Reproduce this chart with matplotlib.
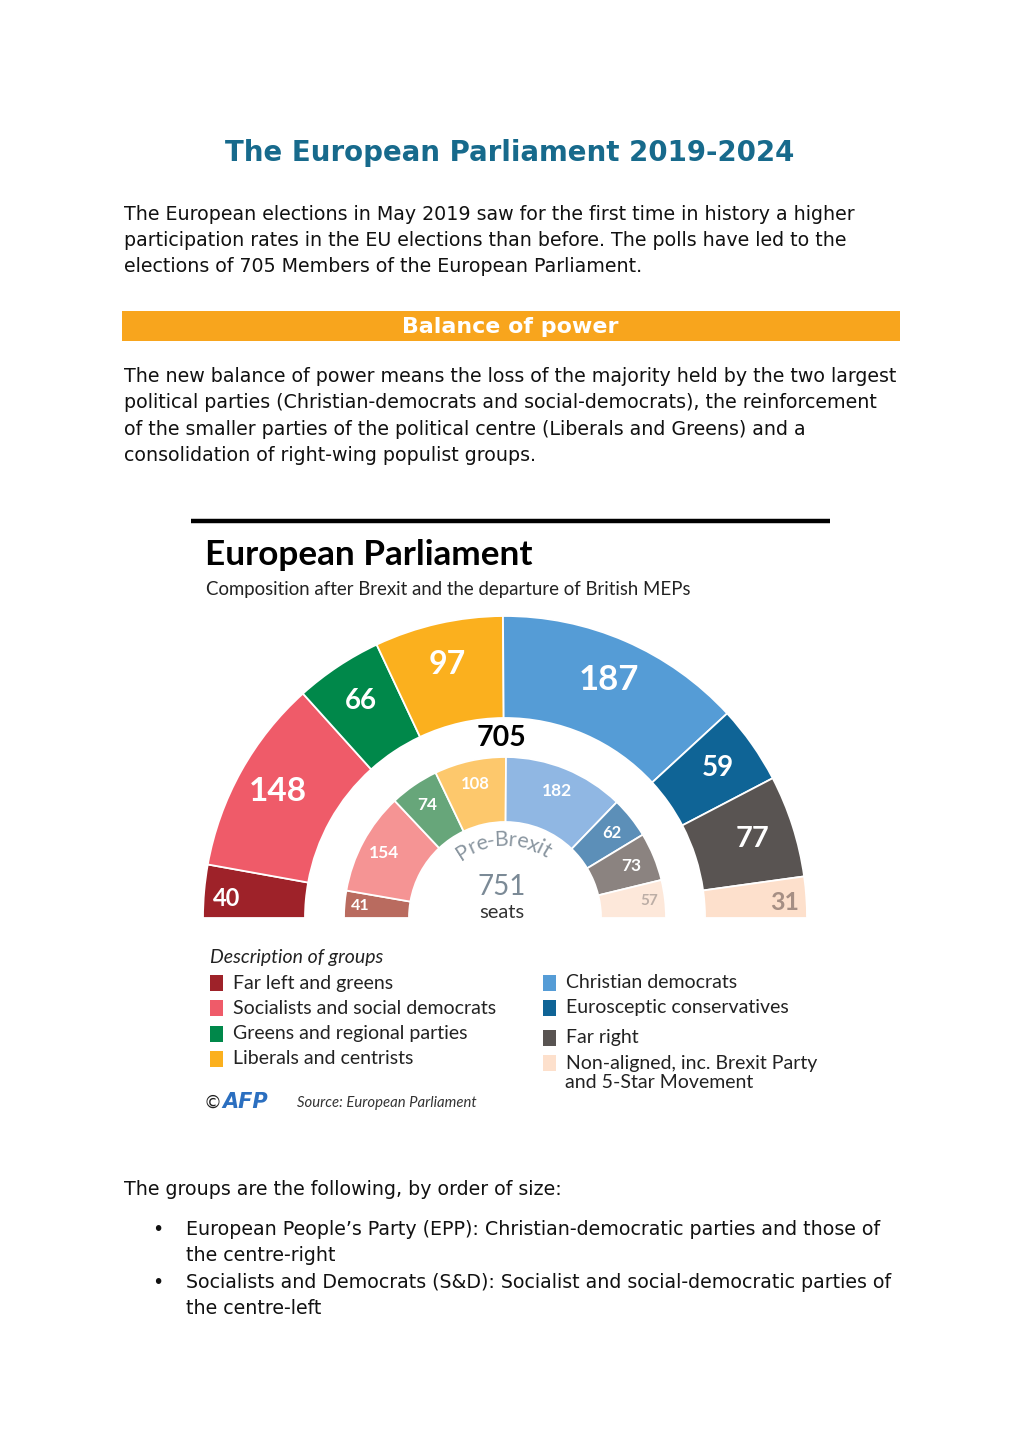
"""European Parliament 2019-2024 page: text blocks plus the AFP hemicycle chart."""
import numpy as np
import matplotlib
matplotlib.use("Agg")
import matplotlib.pyplot as plt
from matplotlib.patches import Wedge, Rectangle
from matplotlib.font_manager import FontProperties
from matplotlib.textpath import TextToPath

# ---- data -----------------------------------------------------------------
groups = [
    "Far left and greens", "Socialists and social democrats",
    "Greens and regional parties", "Liberals and centrists",
    "Christian democrats", "Eurosceptic conservatives", "Far right",
    "Non-aligned, inc. Brexit Party\nand 5-Star Movement",
]
seats_now = [40, 148, 66, 97, 187, 59, 77, 31]        # after Brexit, 705
seats_pre = [41, 154, 74, 108, 182, 62, 73, 57]       # pre-Brexit, 751

outer_colors = ["#9e2229", "#ef5b69", "#00884a", "#fbb01e",
                "#559cd6", "#0f6496", "#595452", "#fde0cc"]
inner_colors = ["#b96b5f", "#f59494", "#67a67a", "#fdc86c",
                "#90b7e3", "#5c8fb8", "#8b8380", "#fde8da"]

# label styling (size in pt, colour)
outer_sizes = [17, 24, 20, 23, 25, 20, 21, 18]
inner_sizes = [11.5, 12.5, 12.5, 12, 12.5, 12, 12.5, 11]
outer_txt = ["white"] * 7 + ["#a68f84"]
inner_txt = ["white"] * 7 + ["#bcaea6"]

W, H = 1020, 1442
BODY = "DejaVu Sans"
CHART = "Lato"
FS = 13.7


def Y(y):
    """image row -> axes y."""
    return H - y


fig = plt.figure(figsize=(W / 100, H / 100), dpi=100)
ax = fig.add_axes([0, 0, 1, 1])
ax.set_xlim(0, W)
ax.set_ylim(0, H)
ax.axis("off")

# ---- document text ----------------------------------------------------------
ax.text(510, Y(153), "The European Parliament 2019-2024", ha="center", va="center",
        fontsize=19.9, fontweight="bold", color="#176a8c", family=BODY)

para1 = ["The European elections in May 2019 saw for the first time in history a higher",
         "participation rates in the EU elections than before. The polls have led to the",
         "elections of 705 Members of the European Parliament."]
for i, line in enumerate(para1):
    ax.text(124, Y(214.5 + 26 * i), line, ha="left", va="center", fontsize=FS,
            family=BODY, color="#111111")

ax.add_patch(Rectangle((122, Y(341)), 778, 30, color="#f8a51d", lw=0))
ax.text(510, Y(327), "Balance of power", ha="center", va="center", fontsize=15.9,
        fontweight="bold", color="white", family=BODY)

para2 = ["The new balance of power means the loss of the majority held by the two largest",
         "political parties (Christian-democrats and social-democrats), the reinforcement",
         "of the smaller parties of the political centre (Liberals and Greens) and a",
         "consolidation of right-wing populist groups."]
for i, line in enumerate(para2):
    ax.text(124, Y(376.5 + 26.3 * i), line, ha="left", va="center", fontsize=FS,
            family=BODY, color="#111111")

# ---- chart header -----------------------------------------------------------
ax.plot([191, 830], [Y(521), Y(521)], color="black", lw=3.2, solid_capstyle="butt")
ax.text(205, Y(555), "European Parliament", ha="left", va="center", fontsize=25.3,
        fontweight="bold", color="black", family=CHART)
ax.text(206, Y(589), "Composition after Brexit and the departure of British MEPs",
        ha="left", va="center", fontsize=13.45, color="#222222", family=CHART)

# ---- hemicycle --------------------------------------------------------------
cx, cy = 505, Y(918)
rings = [
    # seats, colours, r_in, r_out, label radius, end-label (radius frac, angle frac), sizes, text colours
    (seats_now, outer_colors, 200, 302, 260, (0.78, 0.40), outer_sizes, outer_txt),
    (seats_pre, inner_colors, 96, 161, 137, (0.76, 0.5), inner_sizes, inner_txt),
]
for seats, colors, r_in, r_out, r_lab, (ef, af), sizes, tcols in rings:
    total = sum(seats)
    bounds = 180 - 180 * np.concatenate([[0], np.cumsum(seats)]) / total
    for k, v in enumerate(seats):
        t1, t2 = bounds[k + 1], bounds[k]
        ax.add_patch(Wedge((cx, cy), r_out, t1, t2, width=r_out - r_in,
                           facecolor=colors[k], edgecolor="white", lw=1.3))
        mid = np.deg2rad((t1 + t2) / 2)
        rr = r_lab
        # the flat end segments carry their label near the base line
        if k == 0:
            mid, rr = np.deg2rad(t2 - af * (t2 - t1)), r_in + ef * (r_out - r_in)
        elif k == len(seats) - 1:
            mid, rr = np.deg2rad(t1 + af * (t2 - t1)), r_in + ef * (r_out - r_in)
        ax.text(cx + rr * np.cos(mid), cy + rr * np.sin(mid), str(v),
                ha="center", va="center", fontsize=sizes[k], fontweight="bold",
                color=tcols[k], family=CHART)

ax.text(502, Y(738), str(sum(seats_now)), ha="center", va="center", fontsize=20.5,
        fontweight="bold", color="black", family=CHART)
ax.text(502, Y(887), str(sum(seats_pre)), ha="center", va="center", fontsize=20,
        color="#7b8a96", family=CHART)
ax.text(502, Y(912), "seats", ha="center", va="center", fontsize=14.5,
        color="#333333", family=CHART)

# curved "Pre-Brexit"
label = "Pre-Brexit"
fp = FontProperties(family=CHART, size=15.5)
t2p = TextToPath()
widths = [t2p.get_text_width_height_descent(label[:i], fp, ismath=False)[0] * 100 / 72
          for i in range(len(label) + 1)]
r_txt = 78
span = widths[-1] / r_txt
a0 = np.pi / 2 + span / 2 + np.deg2rad(1.5)
for i, ch in enumerate(label):
    s = (widths[i] + widths[i + 1]) / 2
    a = a0 - s / r_txt
    ax.text(cx + r_txt * np.cos(a), cy + r_txt * np.sin(a), ch, ha="center", va="center",
            rotation=np.rad2deg(a) - 90, rotation_mode="anchor", fontproperties=fp,
            color="#8a96a0")

# ---- legend -----------------------------------------------------------------
ax.text(210, Y(957), "Description of groups", ha="left", va="center", fontsize=14,
        style="italic", color="#222222", family=CHART)
left_rows = [983, 1008, 1034, 1059]
right_rows = [983, 1008, 1038, 1063]
for k, name in enumerate(groups):
    if k < 4:
        x0, yy = 210, left_rows[k]
    else:
        x0, yy = 543, right_rows[k - 4]
    ax.add_patch(Rectangle((x0, Y(yy + 8)), 13, 16, color=outer_colors[k], lw=0))
    ax.text(x0 + 23, Y(yy), name.split("\n")[0], ha="left", va="center", fontsize=14,
            color="#222222", family=CHART)
    if "\n" in name:
        ax.text(x0 + 22, Y(yy + 20), name.split("\n")[1], ha="left", va="center",
                fontsize=14, color="#222222", family=CHART)

ax.text(204, Y(1103), "\u00a9", ha="left", va="center", fontsize=13, color="#222222",
        family=BODY)
ax.text(222, Y(1102), "AFP", ha="left", va="center", fontsize=15, fontweight="heavy",
        style="italic", color="#2b6fc0", family=BODY)
ax.text(297, Y(1103), "Source: European Parliament", ha="left", va="center",
        fontsize=10.7, style="italic", color="#333333", family=CHART)

# ---- closing text -----------------------------------------------------------
ax.text(124, Y(1189.5), "The groups are the following, by order of size:", ha="left",
        va="center", fontsize=FS, family=BODY, color="#111111")
bullets = [
    ("European People\u2019s Party (EPP): Christian-democratic parties and those of",
     "the centre-right"),
    ("Socialists and Democrats (S&D): Socialist and social-democratic parties of",
     "the centre-left"),
]
for i, (l1, l2) in enumerate(bullets):
    y0 = 1229.5 + 53 * i
    ax.text(158, Y(y0), "\u2022", ha="center", va="center", fontsize=FS,
            family=BODY, color="#111111")
    ax.text(186, Y(y0), l1, ha="left", va="center", fontsize=FS, family=BODY,
            color="#111111")
    ax.text(186, Y(y0 + 26), l2, ha="left", va="center", fontsize=FS, family=BODY,
            color="#111111")

fig.savefig("out.png", dpi=100, facecolor="white")
